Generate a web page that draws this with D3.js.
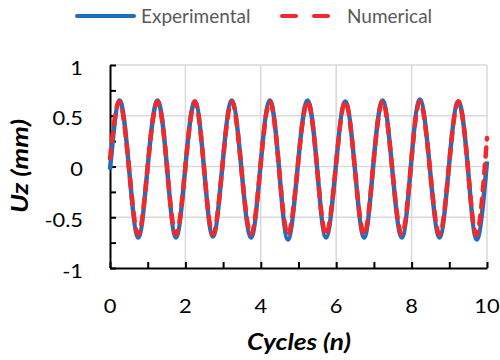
<!DOCTYPE html>
<html><head><meta charset="utf-8">
<script src="https://cdn.jsdelivr.net/npm/d3@7"></script>
<style>body{margin:0;background:#fff}svg{display:block}</style>
</head><body><div id="chart"></div>
<script>
const cycles = [0, 0.25, 0.50, 0.75, 1.00, 1.26, 1.51, 1.75, 2.00, 2.25, 2.49, 2.73, 2.98, 3.23, 3.48, 3.74, 3.99, 4.24, 4.48, 4.72, 4.98, 5.24, 5.49, 5.73, 5.99, 6.24, 6.49, 6.74, 6.98, 7.23, 7.48, 7.74, 7.98, 8.22, 8.48, 8.74, 8.99, 9.24, 9.49, 9.73, 10.0];
const experimental = [-0.03, 0.65, 0.00, -0.70, 0.00, 0.65, 0.00, -0.70, 0.00, 0.64, 0.00, -0.69, 0.00, 0.65, 0.00, -0.70, 0.00, 0.65, 0.00, -0.72, 0.00, 0.65, 0.00, -0.70, 0.00, 0.64, 0.00, -0.70, 0.00, 0.65, 0.00, -0.70, 0.00, 0.66, 0.00, -0.70, 0.00, 0.64, 0.00, -0.72, 0.05];
const numerical = [0.08, 0.64, 0.00, -0.67, 0.00, 0.64, 0.00, -0.67, 0.00, 0.64, 0.00, -0.67, 0.00, 0.64, 0.00, -0.67, 0.00, 0.64, 0.00, -0.67, 0.00, 0.64, 0.00, -0.67, 0.00, 0.64, 0.00, -0.67, 0.00, 0.64, 0.00, -0.67, 0.00, 0.64, 0.00, -0.67, 0.00, 0.64, 0.00, -0.67, 0.28];
const xTicks = [0, 2, 4, 6, 8, 10];
const yTicks = [-1, -0.5, 0, 0.5, 1];
const seriesNames = ["Experimental", "Numerical"];

const W = 500, H = 360;
const svg = d3.select("#chart").append("svg").attr("width", W).attr("height", H);
const x = d3.scaleLinear().domain([0, 10]).range([110, 487]);
const y = d3.scaleLinear().domain([-1, 1]).range([268, 65]);
const font = "Lato, 'Open Sans', sans-serif";

// gridlines
const grid = svg.append("g").attr("stroke", "#d9d9d9").attr("stroke-width", 1.5);
grid.selectAll(".gx").data(xTicks.filter(d => d > 0)).enter().append("line")
  .attr("x1", d => x(d)).attr("x2", d => x(d)).attr("y1", y(-1)).attr("y2", y(1));
grid.selectAll(".gy").data(yTicks.filter(d => d > -1)).enter().append("line")
  .attr("x1", x(0)).attr("x2", x(10)).attr("y1", d => y(d)).attr("y2", d => y(d));

// axes
const xAxis = d3.axisBottom(x).ticks(10).tickSizeInner(-6).tickSizeOuter(0).tickFormat("");
const gx = svg.append("g").attr("transform", `translate(0,${y(-1)})`).call(xAxis);
const yAxis = d3.axisLeft(y).tickValues(d3.range(-1, 1.01, 0.25)).tickSizeInner(-6).tickSizeOuter(0).tickFormat("");
const gy = svg.append("g").attr("transform", `translate(${x(0)},0)`).call(yAxis);
[gx, gy].forEach(g => {
  g.select(".domain").attr("stroke", "#000").attr("stroke-width", 2);
  g.selectAll(".tick line").attr("stroke", "#000").attr("stroke-width", 2);
});

// tick labels (slightly widened glyphs like the reference)
svg.append("g").selectAll("text").data(xTicks).enter().append("text")
  .attr("transform", d => `translate(${x(d)},313) scale(1.15,1)`).attr("text-anchor", "middle")
  .attr("font-family", font).attr("font-size", 19).attr("fill", "#000").text(d => d);
svg.append("g").selectAll("text").data(yTicks).enter().append("text")
  .attr("transform", d => `translate(83,${y(d) + 9.5}) scale(1.15,1)`).attr("text-anchor", "end")
  .attr("font-family", font).attr("font-size", 19).attr("fill", "#000").text(d => d);

// axis titles
svg.append("text").attr("x", 299).attr("y", 350).attr("text-anchor", "middle")
  .attr("font-family", font).attr("font-size", 22).attr("font-weight", "bold").attr("font-style", "italic")
  .attr("textLength", 104).attr("lengthAdjust", "spacingAndGlyphs")
  .text("Cycles (n)");
svg.append("text").attr("transform", "translate(28,166) rotate(-90)").attr("text-anchor", "middle")
  .attr("font-family", font).attr("font-size", 23).attr("font-weight", "bold").attr("font-style", "italic")
  .attr("textLength", 94).attr("lengthAdjust", "spacingAndGlyphs")
  .text("Uz (mm)");

// lines
const line = vals => d3.line().x((d, i) => x(cycles[i])).y(d => y(d)).curve(d3.curveNatural)(vals);
svg.append("path").attr("d", line(experimental)).attr("fill", "none")
  .attr("stroke", "#1F6EC1").attr("stroke-width", 4.5).attr("stroke-linejoin", "round");
svg.append("path").attr("d", line(numerical)).attr("fill", "none")
  .attr("stroke", "#EE2A2A").attr("stroke-width", 4.5).attr("stroke-dasharray", "9,8").attr("stroke-linecap", "round");

// legend
const lg = svg.append("g");
lg.append("line").attr("x1", 77).attr("x2", 134).attr("y1", 16).attr("y2", 16)
  .attr("stroke", "#1F6EC1").attr("stroke-width", 4).attr("stroke-linecap", "round");
lg.append("text").attr("x", 141).attr("y", 23).attr("font-family", font).attr("font-size", 19)
  .attr("fill", "#595959").text(seriesNames[0]);
lg.append("line").attr("x1", 282).attr("x2", 329).attr("y1", 16).attr("y2", 16)
  .attr("stroke", "#EE2A2A").attr("stroke-width", 4).attr("stroke-linecap", "round").attr("stroke-dasharray", "14,18");
lg.append("text").attr("x", 347).attr("y", 23).attr("font-family", font).attr("font-size", 19)
  .attr("fill", "#595959").text(seriesNames[1]);
</script></body></html>
